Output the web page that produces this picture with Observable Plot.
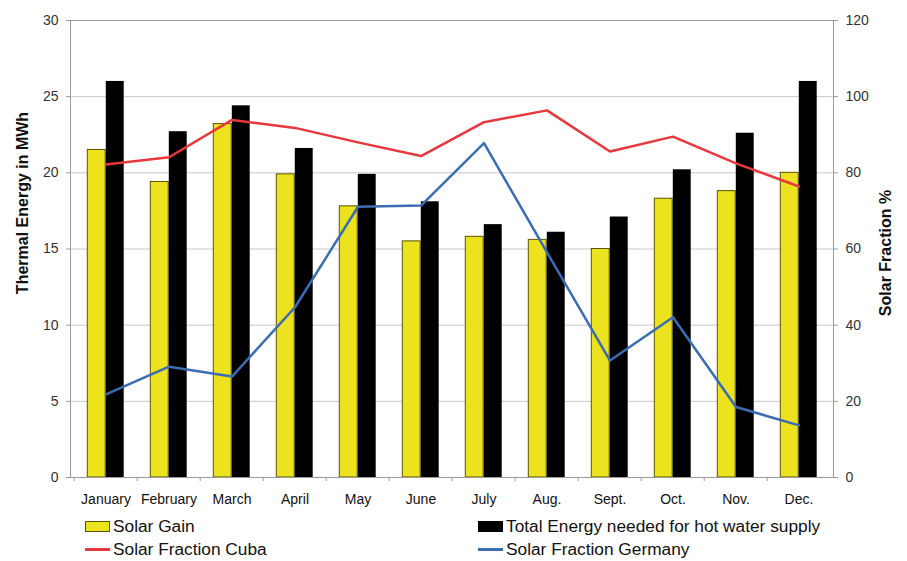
<!DOCTYPE html>
<html>
<head>
<meta charset="utf-8">
<script src="https://cdn.jsdelivr.net/npm/d3@7"></script>
<script src="https://cdn.jsdelivr.net/npm/@observablehq/plot@0.6"></script>
<style>
  body { margin: 0; background: #fff; font-family: "Liberation Sans", Arial, sans-serif; }
  #chart { position: relative; width: 907px; height: 561px; overflow: hidden; }
  #chart svg { display: block; }
  .legend-item { position: absolute; height: 20px; display: flex; align-items: center;
                 font-size: 17.3px; color: #111; white-space: nowrap; }
  .sw-box { width: 23px; height: 9px; margin-right: 3px; box-sizing: content-box; }
  .sw-line { width: 25px; height: 3px; margin-right: 3px; }
</style>
</head>
<body>
<div id="chart"></div>
<script>
// Monthly thermal energy (MWh) and solar fraction (%)
const months = ["January", "February", "March", "April", "May", "June",
                "July", "Aug.", "Sept.", "Oct.", "Nov.", "Dec."];
const solarGain       = [21.5, 19.4, 23.2, 19.9, 17.8, 15.5, 15.8, 15.6, 15.0, 18.3, 18.8, 20.0];
const totalEnergy     = [26.0, 22.7, 24.4, 21.6, 19.9, 18.1, 16.6, 16.1, 17.1, 20.2, 22.6, 26.0];
const fractionCuba    = [82.2, 84.1, 93.9, 91.8, 88.0, 84.4, 93.3, 96.4, 85.6, 89.5, 82.5, 76.4];
const fractionGermany = [21.8, 29.1, 26.5, 44.7, 71.1, 71.4, 87.8, 59.1, 30.7, 42.1, 18.5, 13.7];
const energyTicks   = [0, 5, 10, 15, 20, 25, 30];
const fractionTicks = [0, 20, 40, 60, 80, 100, 120];

const series = [
  {name: "Solar Gain", kind: "box", fill: "#ece21e", stroke: "#5a5400"},
  {name: "Total Energy needed for hot water supply", kind: "box", fill: "#000", stroke: "#000"},
  {name: "Solar Fraction Cuba", kind: "line", stroke: "#e8383d"},
  {name: "Solar Fraction Germany", kind: "line", stroke: "#3a6db4"}
];

const rows = months.map((month, i) => ({
  month,
  gain: solarGain[i],
  total: totalEnergy[i],
  cuba: fractionCuba[i],
  germany: fractionGermany[i]
}));

const W = 907, H = 512;
const mL = 70, mR = 74, mT = 20, mB = 35;
const band = (W - mL - mR) / months.length;
const barW = 18.5;
// the right-hand percentage axis shares the left scale: 120 % sits on 30 MWh
const pctToMWh = v => v * energyTicks[energyTicks.length - 1] / fractionTicks[fractionTicks.length - 1];

const chart = Plot.plot({
  width: W,
  height: H,
  marginLeft: mL,
  marginRight: mR,
  marginTop: mT,
  marginBottom: mB,
  style: {fontFamily: "Liberation Sans, Arial, sans-serif", fontSize: "14px", color: "#222", background: "#fff"},
  x: {domain: months, padding: 0, axis: null},
  y: {domain: [energyTicks[0], energyTicks[energyTicks.length - 1]], axis: null},
  marks: [
    Plot.gridY(energyTicks.slice(1, -1), {stroke: "#c8c8c8", strokeOpacity: 1}),
    Plot.barY(rows, {
      x: "month", y: "gain", fill: series[0].fill, stroke: series[0].stroke, strokeWidth: 1,
      insetLeft: band / 2 - barW, insetRight: band / 2
    }),
    Plot.barY(rows, {
      x: "month", y: "total", fill: series[1].fill,
      insetLeft: band / 2, insetRight: band / 2 - barW
    }),
    Plot.line(rows, {x: "month", y: d => pctToMWh(d.cuba), stroke: series[2].stroke, strokeWidth: 2.5}),
    Plot.line(rows, {x: "month", y: d => pctToMWh(d.germany), stroke: series[3].stroke, strokeWidth: 2.5}),
    Plot.frame({stroke: "#9a9a9a"}),
    // small category separators below the baseline
    Plot.ruleX(rows, {x: "month", dx: -band / 2, y1: 0, y2: 0, insetBottom: -4, stroke: "#9a9a9a"}),
    Plot.axisX({tickSize: 0, tickPadding: 17, fill: "#111", fontSize: 14, label: null}),
    Plot.axisY(energyTicks, {anchor: "left", tickSize: 4, tickPadding: 8, stroke: "#9a9a9a", fill: "#333", fontSize: 14, label: null}),
    Plot.axisY(fractionTicks.map(pctToMWh), {
      anchor: "right", tickSize: 4, tickPadding: 8, stroke: "#9a9a9a", fill: "#333", fontSize: 14, label: null,
      tickFormat: v => Math.round(v / pctToMWh(1))
    }),
    Plot.text(["Thermal Energy in MWh"], {
      frameAnchor: "left", dx: -48, dy: -46, rotate: -90, textAnchor: "middle",
      fontWeight: "bold", fontSize: 16, fill: "#111"
    }),
    Plot.text(["Solar Fraction %"], {
      frameAnchor: "right", dx: 52, dy: 4, rotate: -90, textAnchor: "middle",
      fontWeight: "bold", fontSize: 16, fill: "#111"
    })
  ]
});

const root = document.getElementById("chart");
root.appendChild(chart);

// legend below the chart, two columns by two rows
const legendPos = [
  {left: 85, top: 516},
  {left: 478, top: 516},
  {left: 85, top: 539},
  {left: 478, top: 539}
];
series.forEach((s, i) => {
  const item = document.createElement("div");
  item.className = "legend-item";
  item.style.left = legendPos[i].left + "px";
  item.style.top = legendPos[i].top + "px";
  const sw = document.createElement("span");
  if (s.kind === "box") {
    sw.className = "sw-box";
    sw.style.background = s.fill;
    sw.style.border = "1px solid " + s.stroke;
  } else {
    sw.className = "sw-line";
    sw.style.background = s.stroke;
  }
  const label = document.createElement("span");
  label.textContent = s.name;
  item.appendChild(sw);
  item.appendChild(label);
  root.appendChild(item);
});
</script>
</body>
</html>
